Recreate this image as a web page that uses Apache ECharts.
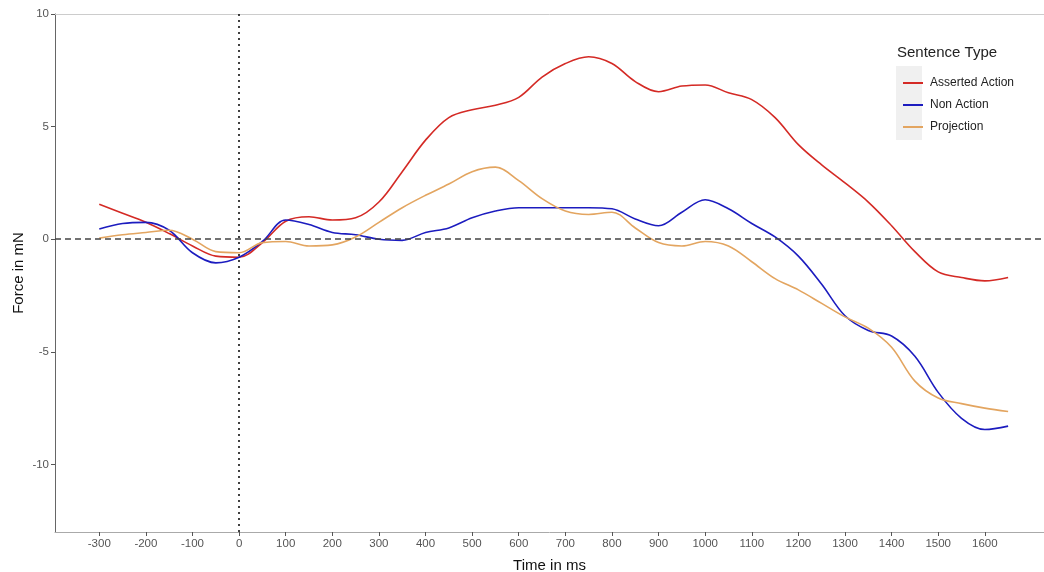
<!DOCTYPE html>
<html>
<head>
<meta charset="utf-8">
<script src="https://cdn.jsdelivr.net/npm/echarts@6/dist/echarts.min.js"></script>
<style>html,body{margin:0;padding:0;background:#fff}#c{width:1044px;height:572px}</style>
</head>
<body>
<div id="c"></div>
<script>
const times = [-300,-250,-200,-150,-100,-50,0,50,100,150,200,250,300,350,400,450,500,550,600,650,700,750,800,850,900,950,1000,1050,1100,1150,1200,1250,1300,1350,1400,1450,1500,1550,1600,1650];
const assertedAction = [1.55,1.15,0.75,0.25,-0.3,-0.75,-0.8,-0.15,0.8,1.0,0.85,0.95,1.65,3.0,4.4,5.4,5.75,5.95,6.3,7.2,7.8,8.1,7.8,7.0,6.55,6.8,6.85,6.5,6.2,5.4,4.2,3.3,2.5,1.65,0.6,-0.55,-1.45,-1.7,-1.85,-1.7];
const nonAction = [0.45,0.7,0.75,0.4,-0.6,-1.05,-0.8,-0.1,0.85,0.65,0.3,0.2,0.0,-0.05,0.3,0.5,0.95,1.25,1.4,1.4,1.4,1.4,1.35,0.9,0.6,1.2,1.75,1.35,0.7,0.1,-0.75,-2.0,-3.4,-4.05,-4.3,-5.2,-6.8,-7.95,-8.45,-8.3];
const projection = [0.05,0.2,0.3,0.4,0.0,-0.55,-0.6,-0.15,-0.1,-0.3,-0.25,0.1,0.75,1.4,1.95,2.45,3.0,3.2,2.6,1.8,1.25,1.1,1.2,0.5,-0.15,-0.3,-0.1,-0.3,-1.0,-1.75,-2.25,-2.85,-3.45,-3.95,-4.8,-6.3,-7.05,-7.3,-7.5,-7.65];
const xTicks = [-300,-200,-100,0,100,200,300,400,500,600,700,800,900,1000,1100,1200,1300,1400,1500,1600];
const yTicks = [-10,-5,0,5,10];
const seriesNames = ['Asserted Action','Non Action','Projection'];
const colors = ['#d42a25','#1c1cbf','#e3a560'];

const font = 'Liberation Sans, Arial, Helvetica, sans-serif';
const chart = echarts.init(document.getElementById('c'));
function pairs(arr){ return times.map((t,i)=>[t,arr[i]]); }
const datasets = [assertedAction, nonAction, projection];
const series = datasets.map((d,i)=>({
  name: seriesNames[i], type:'line', data: pairs(d), smooth: 0.35, symbol:'none',
  lineStyle:{color:colors[i], width:1.6}, itemStyle:{color:colors[i]}, z: 3
}));
series[0].markLine = {
  silent:true, symbol:'none', label:{show:false}, animation:false,
  data:[
    {xAxis:0, lineStyle:{color:'#111', type:[2,4], width:1.6}},
    {yAxis:0, lineStyle:{color:'#444', type:[6,4], width:1.5}}
  ]
};
chart.setOption({
  animation:false,
  textStyle:{fontFamily:font},
  grid:{left:55, right:0, top:14, bottom:40, containLabel:false, outerBoundsMode:'none'},
  graphic:[
    {type:'rect', shape:{x:896, y:66, width:26, height:74}, style:{fill:'#f0f0f0'}, z:0},
    {type:'text', x:897, y:45, style:{text:'Sentence Type', fontSize:15, fill:'#222', fontFamily:font}}
  ],
  legend:{
    orient:'vertical', left:898, top:72, itemGap:10, itemWidth:20, itemHeight:2,
    icon:'rect', textStyle:{fontSize:12, color:'#222', fontFamily:font, padding:[0,0,0,2]},
    data:seriesNames
  },
  xAxis:[{
    type:'value', min:-395, max:1727, position:'bottom',
    name:'Time in ms', nameLocation:'middle', nameGap:26, nameMoveOverlap:false,
    nameTextStyle:{fontSize:15, color:'#111', fontFamily:font},
    axisLine:{show:true, onZero:false, lineStyle:{color:'#aaa', width:1}},
    axisTick:{show:true, length:4, lineStyle:{color:'#555'}, customValues:xTicks},
    axisLabel:{fontSize:11.5, color:'#555', margin:6, customValues:xTicks, formatter:(v)=>String(v)},
    splitLine:{show:false}
  },{
    type:'value', min:-395, max:1727, position:'top',
    axisLine:{show:true, onZero:false, lineStyle:{color:'#ccc', width:1}},
    axisTick:{show:false}, axisLabel:{show:false}, splitLine:{show:false}
  }],
  yAxis:{
    type:'value', min:-13, max:10,
    name:'Force in mN', nameLocation:'middle', nameGap:29, nameRotate:90, nameMoveOverlap:false,
    nameTextStyle:{fontSize:15, color:'#111', fontFamily:font},
    axisLine:{show:true, onZero:false, lineStyle:{color:'#666', width:1}},
    axisTick:{show:true, length:4, lineStyle:{color:'#555'}, customValues:yTicks},
    axisLabel:{fontSize:11.5, color:'#555', margin:6, customValues:yTicks, formatter:(v)=>String(v)},
    splitLine:{show:false}
  },
  series: series
});
</script>
</body>
</html>
